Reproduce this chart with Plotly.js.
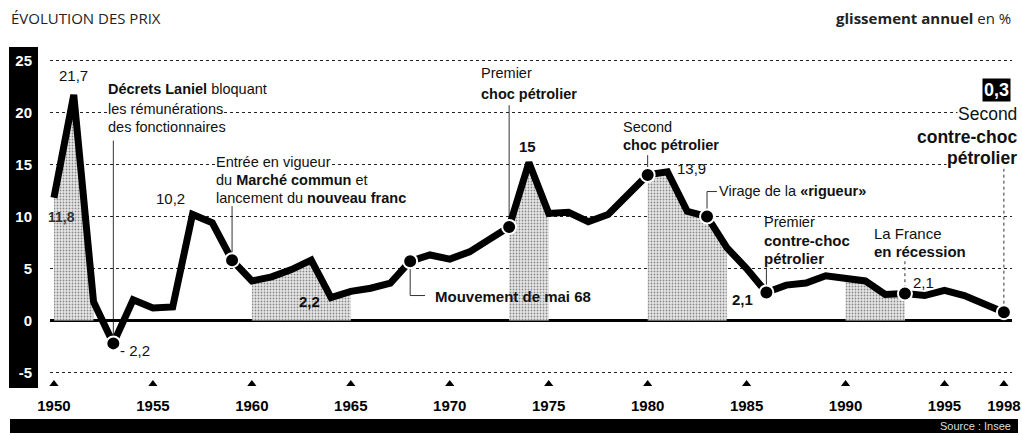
<!DOCTYPE html>
<html>
<head>
<meta charset="utf-8">
<script src="https://cdn.plot.ly/plotly-3.0.1.min.js"></script>
<style>
html,body{margin:0;padding:0;background:#fff;}
#chart{width:1022px;height:435px;}
</style>
</head>
<body>
<div id="chart"></div>
<script>
// ---- data ----
const years = [1950,1951,1952,1953,1954,1955,1956,1957,1958,1959,
               1960,1961,1962,1963,1964,1965,1966,1967,1968,1969,
               1970,1971,1972,1973,1974,1975,1976,1977,1978,1979,
               1980,1981,1982,1983,1984,1985,1986,1987,1988,1989,
               1990,1991,1992,1993,1994,1995,1996,1997,1998];
const inflation = [11.8,21.7,1.8,-2.2,2.0,1.2,1.3,10.2,9.4,5.8,
                   3.8,4.2,4.9,5.8,2.2,2.8,3.1,3.6,5.7,6.3,
                   5.9,6.6,7.8,9.0,15.2,10.3,10.4,9.5,10.2,12.0,
                   14.0,14.3,10.5,10.0,7.0,5.0,2.7,3.4,3.6,4.3,
                   4.1,3.8,2.5,2.6,2.4,2.9,2.4,1.6,0.8];
const markedYears = [1953,1959,1968,1973,1980,1983,1986,1993,1998];
const shadedPeriods = [[1950,1952],[1960,1965],[1973,1975],[1980,1984],[1990,1993]];
const xTickYears = [1950,1955,1960,1965,1970,1975,1980,1985,1990,1995,1998];
const xTickLabels = ['1950','1955','1960','1965','1970','1975','1980','1985','1990','1995','1998'];
const yTickVals = [-5,0,5,10,15,20,25];
const yTickLabels = ['-5','0','5','10','15','20','25'];

// ---- layout geometry ----
const W = 1022, H = 435;
const L = 50, R = 1012, T = 48, B = 388;
const X0 = 1949.8, X1 = 1949.8 + (R - L) / 19.79;
const PXU = 10.4, ZERO = 320.5;
const fx = px => (px - L) / (R - L);
const fy = py => (B - py) / (B - T);
const FONT = 'Liberation Sans, Arial, Helvetica, sans-serif';
const valOf = y => inflation[years.indexOf(y)];

const traces = [];
// shaded periods
shadedPeriods.forEach(([a, b]) => {
  const i0 = years.indexOf(a), i1 = years.indexOf(b);
  traces.push({
    x: years.slice(i0, i1 + 1), y: inflation.slice(i0, i1 + 1),
    type: 'scatter', mode: 'none', fill: 'tozeroy',
    fillcolor: '#e6e6e6',
    fillpattern: {shape: '.', fgcolor: '#8a8a8a', bgcolor: '#e8e8e8', size: 3, solidity: 0.3},
    hoverinfo: 'skip'
  });
});
// main line
traces.push({
  x: years, y: inflation, type: 'scatter', mode: 'lines',
  line: {color: '#000', width: 7, shape: 'linear'}, hoverinfo: 'skip'
});
// markers
traces.push({
  x: markedYears, y: markedYears.map(valOf), type: 'scatter', mode: 'markers',
  marker: {color: '#000', size: 14, line: {color: '#fff', width: 2}},
  cliponaxis: false, hoverinfo: 'skip'
});
// triangles above year labels
traces.push({
  x: xTickYears, y: xTickYears.map(() => -6.1), type: 'scatter', mode: 'markers',
  marker: {symbol: 'triangle-up', color: '#000', size: 8},
  cliponaxis: false, hoverinfo: 'skip'
});

// connectors (data referenced)
const conn = (x0, y0, x1, y1, dash) => ({
  type: 'line', xref: 'x', yref: 'y', x0, y0, x1, y1,
  line: {color: '#333', width: 1, dash: dash || 'solid'}, layer: 'below'
});
const shapes = [
  {type: 'rect', xref: 'paper', yref: 'paper', x0: fx(9), x1: fx(38), y0: fy(388), y1: fy(47),
   fillcolor: '#000', line: {width: 0}, layer: 'below'},
  {type: 'rect', xref: 'paper', yref: 'paper', x0: fx(10), x1: fx(1018), y0: fy(433), y1: fy(419),
   fillcolor: '#000', line: {width: 0}, layer: 'below'},
  conn(1953, 17.3, 1953, valOf(1953)),
  conn(1959, 11.0, 1959, valOf(1959)),
  conn(1968, valOf(1968), 1968, 2.4),
  conn(1968, 2.4, 1968.75, 2.4),
  conn(1973, 20.7, 1973, valOf(1973)),
  conn(1980, 15.9, 1980, valOf(1980)),
  conn(1983, 12.4, 1983, valOf(1983)),
  conn(1983, 12.4, 1983.5, 12.4),
  conn(1986, 5.4, 1986, valOf(1986)),
  conn(1993, 5.7, 1993, valOf(1993), 'dot'),
  conn(1998, 14.6, 1998, valOf(1998), 'dot')
];

const ann = (text, x, y, xa, o) => Object.assign({
  text, xref: 'paper', yref: 'paper', x: fx(x), y: fy(y),
  xanchor: xa || 'left', yanchor: 'middle', showarrow: false,
  font: {family: FONT, size: 14.5, color: '#111'}, borderpad: 0
}, o || {});
const WB = {bgcolor: '#fff'};
const annotations = [
  ann('ÉVOLUTION DES PRIX', 10, 18, 'left', {font: {family: 'Open Sans, sans-serif', size: 15, color: '#222'}}),
  ann('<b>glissement annuel</b> en %', 1012, 18, 'right', {font: {family: 'Open Sans, sans-serif', size: 15, color: '#222'}}),
  ann('Source : Insee', 1012, 426, 'right', {font: {family: FONT, size: 11, color: '#ddd'}}),
  ann('21,7', 73, 75, 'center', {font: {family: FONT, size: 15, color: '#111'}}),
  ann('<b>11,8</b>', 61, 217, 'center', {font: {family: FONT, size: 14, color: '#333'}}),
  ann('- 2,2', 119, 350, 'left', {font: {family: FONT, size: 15, color: '#111'}}),
  ann('10,2', 170, 198, 'center', {font: {family: FONT, size: 15, color: '#111'}}),
  ann('<b>2,2</b>', 309, 301, 'center', {font: {family: FONT, size: 15, color: '#111'}}),
  ann('<b>15</b>', 527, 146, 'center', {font: {family: FONT, size: 15, color: '#111'}}),
  ann('13,9', 676, 168, 'left', {font: {family: FONT, size: 15, color: '#111'}}),
  ann('<b>2,1</b>', 754, 299, 'right', {font: {family: FONT, size: 15, color: '#111'}}),
  ann('2,1', 912, 282, 'left', {font: {family: FONT, size: 15, color: '#111'}}),
  ann('<b>0,3</b>', 996, 90, 'center', {font: {family: FONT, size: 18, color: '#fff'}, bgcolor: '#000', borderpad: 1}),
  ann('<b>Décrets Laniel</b> bloquant', 107, 89, 'left'),
  ann('les rémunérations', 107, 109, 'left', WB),
  ann('des fonctionnaires', 107, 127, 'left'),
  ann('Entrée en vigueur', 215, 162, 'left', WB),
  ann('du <b>Marché commun</b> et', 215, 180, 'left'),
  ann('lancement du <b>nouveau franc</b>', 215, 198, 'left'),
  ann('<b>Mouvement de mai 68</b>', 434, 296, 'left', {font: {family: FONT, size: 15, color: '#111'}}),
  ann('Premier', 480, 73, 'left'),
  ann('<b>choc pétrolier</b>', 480, 94, 'left'),
  ann('Second', 622, 127, 'left'),
  ann('<b>choc pétrolier</b>', 622, 145, 'left'),
  ann('Virage de la <b>«rigueur»</b>', 718, 191, 'left', WB),
  ann('Premier', 763, 222, 'left'),
  ann('<b>contre-choc</b>', 763, 240, 'left', {font: {family: FONT, size: 15, color: '#111'}}),
  ann('<b>pétrolier</b>', 763, 258, 'left', {font: {family: FONT, size: 15, color: '#111'}, bgcolor: '#fff'}),
  ann('La France', 873, 233, 'left', {font: {family: FONT, size: 15, color: '#111'}}),
  ann('<b>en récession</b>', 873, 251, 'left', {font: {family: FONT, size: 15, color: '#111'}}),
  ann('Second', 1018, 114, 'right', {font: {family: FONT, size: 17.5, color: '#111'}, bgcolor: '#fff'}),
  ann('<b>contre-choc</b>', 1018, 137, 'right', {font: {family: FONT, size: 17.5, color: '#111'}, bgcolor: '#fff'}),
  ann('<b>pétrolier</b>', 1018, 158, 'right', {font: {family: FONT, size: 17.5, color: '#111'}, bgcolor: '#fff'})
];

const layout = {
  width: W, height: H,
  margin: {l: L, r: W - R, t: T, b: H - B, pad: 0},
  paper_bgcolor: '#fff', plot_bgcolor: '#fff',
  showlegend: false, hovermode: false,
  xaxis: {
    range: [X0, X1],
    tickmode: 'array', tickvals: xTickYears, ticktext: xTickLabels,
    showgrid: false, zeroline: false, showline: false, ticks: '',
    ticklabelstandoff: 7,
    tickfont: {family: FONT, size: 15, color: '#000', weight: 'bold'}
  },
  yaxis: {
    range: [-(B - ZERO) / PXU, (ZERO - T) / PXU],
    tickmode: 'array', tickvals: yTickVals, ticktext: yTickLabels,
    showgrid: true, gridcolor: '#222', gridwidth: 1.5, griddash: 'dot',
    zeroline: true, zerolinecolor: '#000', zerolinewidth: 3,
    showline: false, ticks: '', ticklabelstandoff: 17,
    tickfont: {family: FONT, size: 15, color: '#fff', weight: 'bold'}
  },
  shapes, annotations
};

Plotly.newPlot('chart', traces, layout, {staticPlot: true, displayModeBar: false});
</script>
</body>
</html>
